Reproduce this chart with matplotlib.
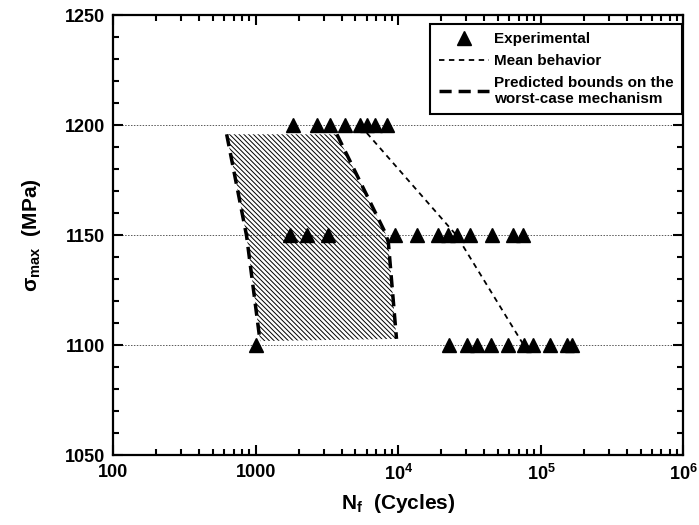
import matplotlib
matplotlib.use('Agg')
import matplotlib.pyplot as plt
from matplotlib.ticker import FixedLocator, FixedFormatter, LogLocator, MultipleLocator, NullFormatter
import numpy as np

plt.rcParams['font.family'] = ['Liberation Sans', 'DejaVu Sans']
plt.rcParams['font.weight'] = 'bold'
plt.rcParams['mathtext.fontset'] = 'custom'
plt.rcParams['mathtext.rm'] = 'Liberation Sans:bold'
plt.rcParams['mathtext.it'] = 'Liberation Sans:bold'
plt.rcParams['mathtext.bf'] = 'Liberation Sans:bold'
plt.rcParams['hatch.linewidth'] = 0.7

# experimental data (cycles to failure) at each max stress level
n_1200 = [1830, 2670, 3310, 4220, 5380, 6000, 6860, 8280]
n_1150 = [1740, 2270, 3220, 9470, 13400, 19000, 22400, 25600, 31800, 45100, 64000, 75200]
n_1100 = [1000, 22800, 30100, 35800, 44400, 59100, 76100, 88400, 116000, 152000, 164000]

# mean behavior
mean_n = [5400, 25600, 76000]
mean_s = [1200, 1150, 1100]

# predicted bounds on the worst-case mechanism
lower_n = [624, 860, 1070]
lower_s = [1196, 1150, 1102]
upper_n = [3700, 8050, 8500, 9700]
upper_s = [1196, 1151.5, 1147, 1103]

x_ticks = [100, 1000, 1e4, 1e5, 1e6]
x_tick_labels = ['100', '1000', r'10$^4$', r'10$^5$', r'10$^6$']
y_ticks = [1050, 1100, 1150, 1200, 1250]

fig = plt.figure(figsize=(6.99, 5.25), dpi=100)
ax = fig.add_axes([0.1621, 0.1324, 0.8157, 0.8381])

# hatched region between the bounds
poly_n = lower_n + upper_n[::-1]
poly_s = lower_s + upper_s[::-1]
ax.fill(poly_n, poly_s, facecolor='none', edgecolor='black', linewidth=0, hatch='\\' * 7)

ax.yaxis.grid(True, linestyle=(0, (1.5, 1.5)), color='0.35', linewidth=0.7)
ax.set_axisbelow(True)

stress_1200 = [1200] * len(n_1200)
stress_1150 = [1150] * len(n_1150)
stress_1100 = [1100] * len(n_1100)
all_n = n_1200 + n_1150 + n_1100
all_s = stress_1200 + stress_1150 + stress_1100
ax.plot(all_n, all_s, linestyle='none', marker='^', markersize=9.5, color='black',
        label='Experimental', zorder=4)

ax.plot(mean_n, mean_s, color='black', linewidth=1.3, dashes=(3, 2.5), label='Mean behavior', zorder=3)
ax.plot(lower_n, lower_s, color='black', linewidth=2.5, dashes=(3.5, 2),
        label='Predicted bounds on the\nworst-case mechanism', zorder=3)
ax.plot(upper_n, upper_s, color='black', linewidth=2.5, dashes=(3.5, 2), zorder=3)

ax.set_xscale('log')
ax.set_xlim(100, 1e6)
ax.set_ylim(1050, 1250)
ax.xaxis.set_major_locator(FixedLocator(x_ticks))
ax.xaxis.set_major_formatter(FixedFormatter(x_tick_labels))
ax.xaxis.set_minor_locator(LogLocator(base=10, subs=np.arange(2, 10)))
ax.xaxis.set_minor_formatter(NullFormatter())
ax.set_yticks(y_ticks)
ax.yaxis.set_minor_locator(MultipleLocator(10))

ax.tick_params(which='both', direction='in', top=True, right=True, width=1.5)
ax.tick_params(which='major', length=7, labelsize=13, pad=6)
ax.tick_params(which='minor', length=4)
for lab in ax.get_xticklabels() + ax.get_yticklabels():
    lab.set_fontweight('bold')
for sp in ax.spines.values():
    sp.set_linewidth(1.6)

ax.set_xlabel(r'N$_{\rm f}$  (Cycles)', fontsize=15, fontweight='bold', labelpad=6)
ax.set_ylabel(r'σ$_{\rm max}$  (MPa)', fontsize=15, fontweight='bold', labelpad=16)

leg = ax.legend(loc='upper right', bbox_to_anchor=(0.9968, 0.9807), borderaxespad=0,
                fancybox=False, framealpha=1, edgecolor='black', handlelength=3.3,
                prop={'weight': 'bold', 'size': 11}, labelspacing=0.5, handletextpad=0.3,
                markerscale=1.1, borderpad=0.55)
leg.get_frame().set_linewidth(1.5)

fig.savefig('out.png', dpi=100)
